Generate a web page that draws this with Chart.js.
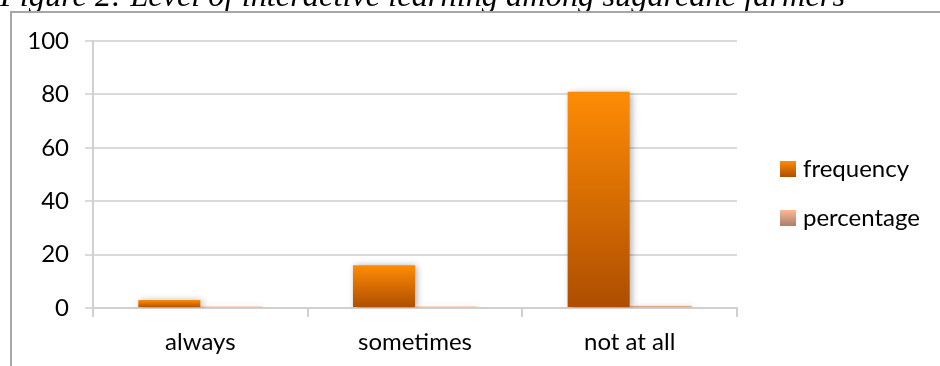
<!DOCTYPE html>
<html>
<head>
<meta charset="utf-8">
<script src="https://cdn.jsdelivr.net/npm/chart.js@4.4.1/dist/chart.umd.min.js"></script>
<style>
  html, body { margin: 0; padding: 0; background: #fff; }
  #wrap { position: relative; width: 940px; height: 366px; overflow: hidden; }
  canvas { display: block; }
</style>
</head>
<body>
<div id="wrap"><canvas id="c" width="940" height="366"></canvas></div>
<script>
// Survey responses: how often farmers take part in interactive learning
const categories = ['always', 'sometimes', 'not at all'];
const frequency = [3, 16, 81];
const percentage = [0.03, 0.16, 0.81];
const seriesNames = ['frequency', 'percentage'];
const yTicks = { min: 0, max: 100, step: 20 };
const titleText = 'Figure 2: Level of interactive learning among sugarcane farmers';

const FONT = 'Lato, "Open Sans", sans-serif';
const palettes = [
  ['#ff8c05', '#ad4d00'],   // frequency: bright orange to burnt orange
  ['#ffb894', '#a97f6e']    // percentage: salmon to muted brown
];

function barGradient(idx) {
  return function (ctx) {
    const chart = ctx.chart;
    const [top, bottom] = palettes[idx];
    const y = chart.scales.y;
    if (!chart.chartArea || !y || ctx.raw === undefined) return top;
    const yTop = y.getPixelForValue(ctx.raw);
    const yBot = y.getPixelForValue(0);
    if (yBot - yTop < 2) return top;
    const g = chart.ctx.createLinearGradient(0, yTop, 0, yBot);
    g.addColorStop(0, top);
    g.addColorStop(1, bottom);
    return g;
  };
}

// Frame, caption and bar shadows
const decor = {
  id: 'decor',
  beforeDraw(chart) {
    const c = chart.ctx;
    c.save();
    c.font = 'italic 32.4px "Liberation Serif", "Times New Roman", serif';
    c.fillStyle = '#000';
    c.textBaseline = 'alphabetic';
    c.fillText(titleText, 0, 6);
    c.strokeStyle = '#a6a6a6';
    c.lineWidth = 2;
    c.beginPath();
    c.moveTo(11, 366);
    c.lineTo(11, 12);
    c.lineTo(940, 12);
    c.stroke();
    c.restore();
  },
  beforeDatasetsDraw(chart) {
    const c = chart.ctx;
    c.save();
    c.shadowColor = 'rgba(0,0,0,0.35)';
    c.shadowBlur = 7;
    c.shadowOffsetX = 2;
    c.shadowOffsetY = 1;
  },
  afterDatasetsDraw(chart) {
    chart.ctx.restore();
  },
  afterDraw(chart) {
    // legend drawn beside the plot
    const c = chart.ctx;
    c.save();
    chart.data.datasets.forEach((ds, i) => {
      const x = 780, y = 161 + i * 49;
      const g = c.createLinearGradient(0, y, 0, y + 16);
      g.addColorStop(0, palettes[i][0]);
      g.addColorStop(1, palettes[i][1]);
      c.fillStyle = g;
      c.fillRect(x, y, 16, 16);
      c.fillStyle = '#000';
      c.font = '24px ' + FONT;
      c.textBaseline = 'middle';
      c.fillText(ds.label, 803, y + 8);
    });
    c.restore();
  }
};

new Chart(document.getElementById('c'), {
  type: 'bar',
  data: {
    labels: categories,
    datasets: [
      { label: seriesNames[0], data: frequency, backgroundColor: barGradient(0) },
      { label: seriesNames[1], data: percentage, backgroundColor: barGradient(1), minBarLength: 1.5 }
    ]
  },
  options: {
    responsive: false,
    animation: false,
    devicePixelRatio: 1,
    layout: { padding: { left: 0, right: 203, top: 41, bottom: 0 } },
    datasets: { bar: { categoryPercentage: 0.578, barPercentage: 1.0 } },
    plugins: { legend: { display: false }, tooltip: { enabled: false }, title: { display: false } },
    scales: {
      x: {
        grid: { offset: true, drawOnChartArea: false, color: '#d0d0d0', lineWidth: 2, tickLength: 9 },
        border: { color: '#d0d0d0', width: 2 },
        ticks: { color: '#000', font: { family: FONT, size: 24 }, padding: 11 },
        afterFit(s) { s.height = 58; }
      },
      y: {
        min: yTicks.min,
        max: yTicks.max,
        grid: { color: '#dadada', lineWidth: 2, tickLength: 8 },
        border: { color: '#d0d0d0', width: 2 },
        ticks: { stepSize: yTicks.step, color: '#000', font: { family: FONT, size: 24 }, padding: 16 },
        afterFit(s) { s.width = 93; }
      }
    }
  },
  plugins: [decor]
});
</script>
</body>
</html>
